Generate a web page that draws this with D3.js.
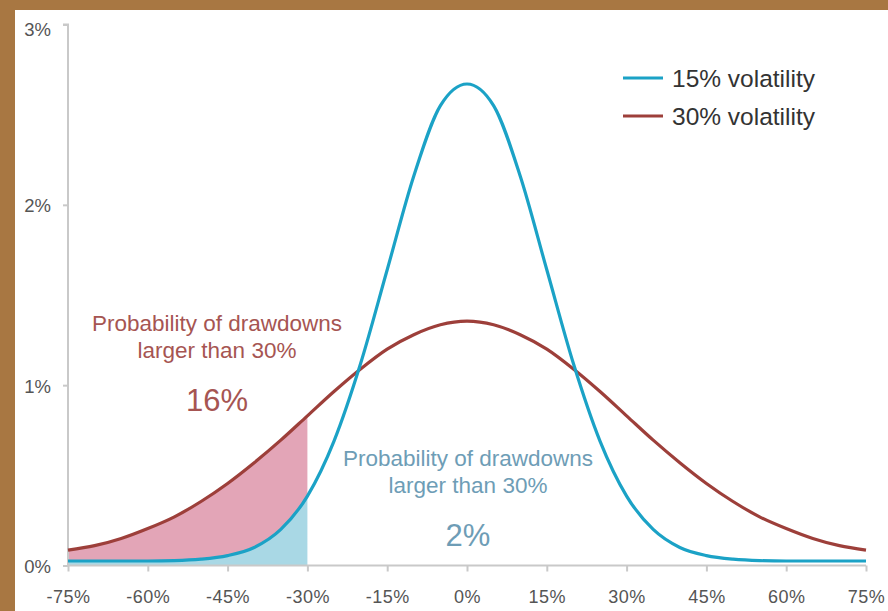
<!DOCTYPE html>
<html>
<head>
<meta charset="utf-8">
<script src="https://cdn.jsdelivr.net/npm/d3@7"></script>
<style>
  html, body { margin: 0; padding: 0; background: #ffffff; }
  svg { display: block; }
  text { font-family: "Liberation Sans", Arial, sans-serif; }
</style>
</head>
<body>
<svg id="chart" width="888" height="611"></svg>
<script>
// Return outcomes (%), sampled every 5 points
const returns = [-75,-70,-65,-60,-55,-50,-45,-40,-35,-30,-25,-20,-15,-10,-5,0,5,10,15,20,25,30,35,40,45,50,55,60,65,70,75];
// Probability (%) for each outcome, 15% volatility
const vol15 = [0.025,0.025,0.025,0.025,0.027,0.035,0.055,0.10,0.20,0.385,0.69,1.12,1.64,2.16,2.55,2.67,2.55,2.16,1.64,1.12,0.69,0.385,0.20,0.10,0.055,0.035,0.027,0.025,0.025,0.025,0.025];
// Probability (%) for each outcome, 30% volatility
const vol30 = [0.085,0.11,0.15,0.205,0.27,0.355,0.455,0.57,0.695,0.83,0.965,1.09,1.20,1.28,1.335,1.355,1.335,1.28,1.20,1.09,0.965,0.83,0.695,0.57,0.455,0.355,0.27,0.205,0.15,0.11,0.085];

const xTicks = [-75,-60,-45,-30,-15,0,15,30,45,60,75];
const yTicks = [0,1,2,3];
const threshold = -30;
const legendItems = ["15% volatility", "30% volatility"];
const tailLabel = ["Probability of drawdowns", "larger than 30%"];
const tailValues = ["16%", "2%"];

const colBlue = "#1ba2c6", colRed = "#9d3f3a";
const fillBlue = "#a9d8e5", fillPink = "#e3a5b7";
const axisCol = "#c9c9c9";

const svg = d3.select("#chart");

// Frame
svg.append("rect").attr("x", 0).attr("y", 0).attr("width", 888).attr("height", 611).attr("fill", "#a87742");
svg.append("rect").attr("x", 15).attr("y", 10).attr("width", 873).attr("height", 601).attr("fill", "#ffffff");

const x = d3.scaleLinear().domain([-75, 75]).range([68, 866]);
const y = d3.scaleLinear().domain([0, 3]).range([565.5, 24.5]);

const pts15 = returns.map((r, i) => ({ r, v: vol15[i] }));
const pts30 = returns.map((r, i) => ({ r, v: vol30[i] }));
const tail15 = pts15.filter(d => d.r <= threshold);
const tail30 = pts30.filter(d => d.r <= threshold);

const curve = d3.curveMonotoneX;

// Shaded tails
const areaBetween = d3.area()
  .x(d => x(d.r))
  .y0((d, i) => y(tail15[i].v))
  .y1(d => y(d.v))
  .curve(curve);
svg.append("path").datum(tail30).attr("d", areaBetween).attr("fill", fillPink);

const areaBelow = d3.area()
  .x(d => x(d.r)).y0(y(0)).y1(d => y(d.v)).curve(curve);
svg.append("path").datum(tail15).attr("d", areaBelow).attr("fill", fillBlue);

// Axes
const yAxis = d3.axisLeft(y).tickValues(yTicks).tickFormat(d => d + "%").tickSize(5).tickPadding(12);
const gy = svg.append("g").attr("transform", `translate(${x(-75)},0)`).call(yAxis);
gy.select(".domain").attr("stroke", axisCol).attr("stroke-width", 2).attr("d", `M-5,${y(3)}H0V${y(0)}`);
gy.selectAll(".tick line").attr("stroke", axisCol).attr("stroke-width", 2);
gy.selectAll(".tick text").attr("fill", "#555").attr("font-size", 18.5).attr("dy", "0.38em");
gy.selectAll(".tick").filter(d => d === 3).select("text").attr("dy", "0.62em");

const xAxis = d3.axisBottom(x).tickValues(xTicks).tickFormat(d => d + "%").tickSize(6).tickPadding(19);
const gx = svg.append("g").attr("transform", `translate(0,${y(0)})`).call(xAxis);
gx.select(".domain").attr("stroke", axisCol).attr("stroke-width", 2).attr("d", `M${x(-75)},0H${x(75)}`);
gx.selectAll(".tick line").attr("stroke", axisCol).attr("stroke-width", 2);
gx.selectAll(".tick text").attr("fill", "#555").attr("font-size", 18).attr("letter-spacing", "0.5px");

// Curves
const line = d3.line().x(d => x(d.r)).y(d => y(d.v)).curve(curve);
svg.append("path").datum(pts30).attr("d", line).attr("fill", "none").attr("stroke", colRed).attr("stroke-width", 3.2);
svg.append("path").datum(pts15).attr("d", line).attr("fill", "none").attr("stroke", colBlue).attr("stroke-width", 3.2);

// Legend
const legend = svg.append("g");
[colBlue, colRed].forEach((c, i) => {
  const ly = 78 + i * 38;
  legend.append("line").attr("x1", 623).attr("x2", 663).attr("y1", ly).attr("y2", ly)
    .attr("stroke", c).attr("stroke-width", 3.2);
  legend.append("text").attr("x", 672).attr("y", ly + 8.5).attr("font-size", 24.5)
    .attr("fill", "#333").text(legendItems[i]);
});

// Tail annotations
function annotate(cx, top, color, value) {
  const g = svg.append("g").attr("fill", color).attr("text-anchor", "middle");
  g.append("text").attr("x", cx).attr("y", top).attr("font-size", 22.5).text(tailLabel[0]);
  g.append("text").attr("x", cx).attr("y", top + 27).attr("font-size", 22.5).text(tailLabel[1]);
  g.append("text").attr("x", cx).attr("y", top + 80).attr("font-size", 31).text(value);
}
annotate(217, 331, "#a65552", tailValues[0]);
annotate(468, 466, "#6e9db6", tailValues[1]);
</script>
</body>
</html>
